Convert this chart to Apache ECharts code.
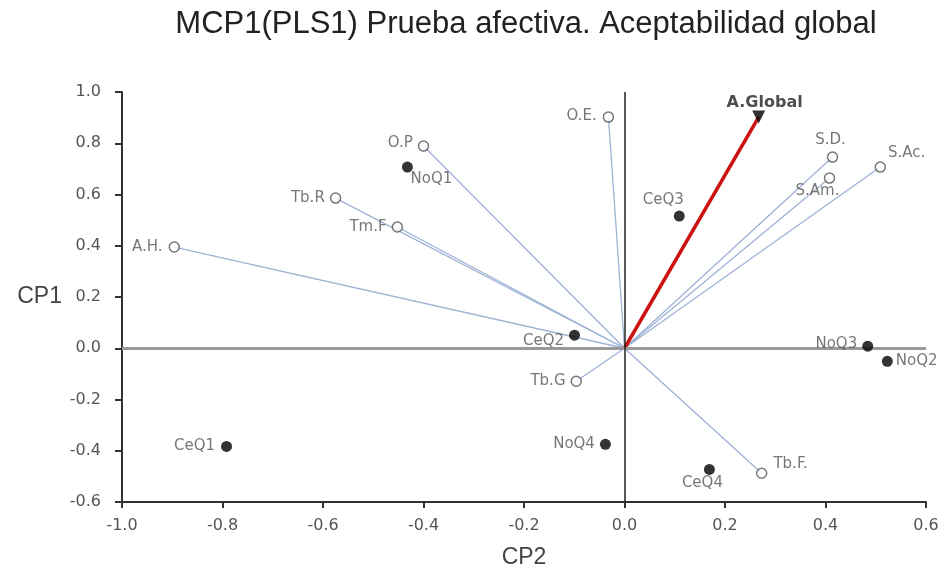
<!DOCTYPE html>
<html>
<head>
  <meta charset="utf-8">
  <title>MCP1(PLS1)</title>
  <script src="https://cdn.jsdelivr.net/npm/echarts@6/dist/echarts.min.js"></script>
  <style>
    html, body { margin: 0; padding: 0; background: #fff; }
    #main { width: 950px; height: 568px; }
  </style>
</head>
<body>
  <div id="main"></div>
  <script>
    // variables (loadings) - open circles joined to the origin
    var varNames = ['A.H.', 'Tb.R', 'Tm.F', 'O.P', 'O.E.', 'S.D.', 'S.Am.', 'S.Ac.', 'Tb.G', 'Tb.F.'];
    var varCP2 = [-0.896, -0.575, -0.452, -0.400, -0.032, 0.414, 0.408, 0.509, -0.096, 0.273];
    var varCP1 = [0.395, 0.586, 0.473, 0.789, 0.902, 0.746, 0.664, 0.707, -0.129, -0.488];

    // products (scores) - filled circles
    var prodNames = ['NoQ1', 'CeQ3', 'CeQ2', 'NoQ3', 'NoQ2', 'CeQ1', 'NoQ4', 'CeQ4'];
    var prodCP2 = [-0.432, 0.109, -0.0995, 0.484, 0.523, -0.792, -0.038, 0.169];
    var prodCP1 = [0.707, 0.516, 0.051, 0.008, -0.051, -0.383, -0.375, -0.473];

    // response variable
    var targetName = 'A.Global';
    var targetCP2 = 0.267;
    var targetCP1 = 0.902;

    var xTicks = [-1.0, -0.8, -0.6, -0.4, -0.2, 0.0, 0.2, 0.4, 0.6];
    var yTicks = [-0.6, -0.4, -0.2, 0.0, 0.2, 0.4, 0.6, 0.8, 1.0];

    // where each label sits next to its point
    var labelPos = {
      'A.H.': ['left', [-2, 0]], 'Tb.R': ['left', [-1, 0]], 'Tm.F': ['left', [-1, 0]],
      'O.P': ['left', [-1, -3]], 'O.E.': ['left', [-2, -1]], 'S.D.': ['top', [-2, 0]],
      'S.Am.': ['bottom', [-12, -4]], 'S.Ac.': ['right', [-2, -14]], 'Tb.G': ['left', [-1, 0]],
      'Tb.F.': ['right', [2, -9]],
      'NoQ1': ['bottom', [24, -5]], 'CeQ3': ['top', [-16, 1]], 'CeQ2': ['left', [-1, 6]],
      'NoQ3': ['left', [-1, -2]], 'NoQ2': ['right', [-1, 0]], 'CeQ1': ['left', [-2, 0]],
      'NoQ4': ['left', [-1, 0]], 'CeQ4': ['bottom', [-7, -3]]
    };

    function lbl(name) {
      var p = labelPos[name] || ['right', [0, 0]];
      return { show: true, formatter: name, position: p[0], offset: p[1], distance: 4 };
    }

    var lineColor = '#9db2d4';
    var textFont = 'DejaVu Sans';

    var vectors = varNames.map(function (n, i) {
      return { coords: [[0, 0], [varCP2[i], varCP1[i]]] };
    });
    var varPoints = varNames.map(function (n, i) {
      return { value: [varCP2[i], varCP1[i]], label: lbl(n) };
    });
    var prodPoints = prodNames.map(function (n, i) {
      return { value: [prodCP2[i], prodCP1[i]], label: lbl(n) };
    });

    var myChart = echarts.init(document.getElementById('main'));
    var option = {
      animation: false,
      title: {
        text: 'MCP1(PLS1) Prueba afectiva. Aceptabilidad global',
        left: 521,
        top: 4,
        textAlign: 'center',
        textStyle: { fontFamily: 'Liberation Sans', fontSize: 31, fontWeight: 'normal', color: '#222' }
      },
      grid: { left: 122, right: 24, top: 92, bottom: 66, outerBoundsMode: 'none', containLabel: false },
      xAxis: {
        type: 'value',
        min: xTicks[0],
        max: xTicks[xTicks.length - 1],
        interval: 0.2,
        name: 'CP2',
        nameLocation: 'middle',
        nameGap: 44,
        nameTextStyle: { fontFamily: 'Liberation Sans', fontSize: 23, color: '#444' },
        axisLine: { onZero: false, lineStyle: { color: '#333', width: 2 } },
        axisTick: { show: true, length: 6, lineStyle: { color: '#333', width: 2 } },
        axisLabel: { fontFamily: textFont, fontSize: 16, color: '#555', margin: 16, formatter: function (v) { return v.toFixed(1); } },
        splitLine: { show: false }
      },
      yAxis: {
        type: 'value',
        min: yTicks[0],
        max: yTicks[yTicks.length - 1],
        interval: 0.2,
        name: 'CP1',
        nameLocation: 'middle',
        nameRotate: 0,
        nameGap: 60,
        nameTextStyle: { fontFamily: 'Liberation Sans', fontSize: 23, color: '#444' },
        axisLine: { onZero: false, lineStyle: { color: '#333', width: 2 } },
        axisTick: { show: true, length: 7, lineStyle: { color: '#333', width: 2 } },
        axisLabel: { fontFamily: textFont, fontSize: 16, color: '#555', margin: 21, formatter: function (v) { return v.toFixed(1); } },
        splitLine: { show: false }
      },
      series: [
        {
          type: 'lines',
          coordinateSystem: 'cartesian2d',
          silent: true,
          z: 2,
          lineStyle: { color: lineColor, width: 1.3, opacity: 1 },
          data: vectors,
          markLine: {
            silent: true,
            symbol: 'none',
            label: { show: false },
            data: [
              { yAxis: 0, lineStyle: { color: '#999', width: 3, type: 'solid' } },
              { xAxis: 0, lineStyle: { color: '#222', width: 1.5, type: 'solid' } }
            ]
          }
        },
        {
          type: 'lines',
          coordinateSystem: 'cartesian2d',
          silent: true,
          z: 3,
          lineStyle: { color: '#cc1111', width: 3.5, opacity: 1 },
          data: [{ coords: [[0, 0], [targetCP2, targetCP1]] }]
        },
        {
          type: 'scatter',
          symbol: 'circle',
          symbolSize: 10,
          z: 5,
          itemStyle: { color: '#fff', borderColor: '#555', borderWidth: 1.5 },
          label: { fontFamily: textFont, fontSize: 15, color: '#555' },
          data: varPoints
        },
        {
          type: 'scatter',
          symbol: 'circle',
          symbolSize: 11,
          z: 5,
          itemStyle: { color: '#000' },
          label: { fontFamily: textFont, fontSize: 15, color: '#555' },
          data: prodPoints
        },
        {
          type: 'scatter',
          symbol: 'triangle',
          symbolRotate: 180,
          symbolSize: 13,
          z: 6,
          itemStyle: { color: '#000' },
          label: {
            show: true, formatter: targetName, position: 'top', offset: [6, 1], distance: 1,
            fontFamily: textFont, fontSize: 16, fontWeight: 'bold', color: '#222'
          },
          data: [[targetCP2, targetCP1]]
        }
      ]
    };
    myChart.setOption(option);
  </script>
</body>
</html>
